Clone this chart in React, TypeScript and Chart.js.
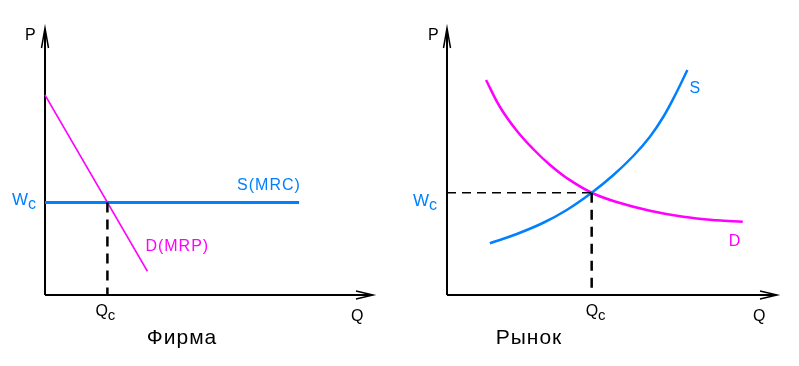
import React, { useEffect, useRef } from "react";
import { Chart, registerables } from "chart.js";

Chart.register(...registerables);

// ---------- Firm panel data (labour market of one firm) ----------
const firmDemandQ = [0, 3.2];
const firmDemandP = [8.0, 0.95];
const firmWage = 3.7;
const firmQc = 1.95;
const firmSupplyQ = [0, 7.94];
const firmAxisMax = { q: 10.25, p: 10.68 };

// ---------- Market panel data ----------
const marketSupplyQ = [1.34, 2.18, 3.01, 3.74, 4.52, 5.2, 5.82, 6.34, 6.76, 7.18, 7.51];
const marketSupplyP = [2.07, 2.44, 2.89, 3.4, 4.09, 4.8, 5.56, 6.33, 7.13, 8.13, 9.0];
const marketDemandQ = [1.22, 1.66, 2.18, 2.7, 3.22, 3.74, 4.52, 5.3, 6.34, 7.38, 8.43, 9.24];
const marketDemandP = [8.6, 7.51, 6.57, 5.83, 5.2, 4.68, 4.09, 3.72, 3.37, 3.13, 2.99, 2.93];
const marketWage = 4.09;
const marketQc = 4.52;
const marketAxisMax = { q: 10.31, p: 10.68 };

// ---------- Texts ----------
const axisLabels = { p: "P", q: "Q" };
const wageLabel = { main: "W", sub: "c" };
const qtyLabel = { main: "Q", sub: "c" };
const firmTitle = "Фирма";
const marketTitle = "Рынок";
const firmSupplyName = "S(MRC)";
const firmDemandName = "D(MRP)";
const marketSupplyName = "S";
const marketDemandName = "D";

const BLUE = "rgb(0,128,255)";
const MAGENTA = "#ff00ff";
const FONT = "'Liberation Sans', Arial, sans-serif";

const zip = (xs: number[], ys: number[]) => xs.map((x, i) => ({ x, y: ys[i] }));

type Label = {
  text: string;
  sub?: string;
  ax: number;
  ay: number;
  dx: number;
  dy: number;
  color: string;
  size: number;
  align?: CanvasTextAlign;
  spacing?: number;
};

const econPlugin = {
  id: "econ",
  beforeDatasetsDraw(chart: any) {
    const { ctx, scales } = chart;
    const x = scales.x;
    const y = scales.y;
    const x0 = x.getPixelForValue(0);
    const y0 = y.getPixelForValue(0);
    const xEnd = x.getPixelForValue(x.max);
    const yTop = y.getPixelForValue(y.max);
    ctx.save();
    ctx.strokeStyle = "#000";
    ctx.lineWidth = 2;
    ctx.beginPath();
    ctx.moveTo(x0, y0);
    ctx.lineTo(xEnd - 1, y0);
    ctx.moveTo(x0, y0);
    ctx.lineTo(x0, yTop + 1);
    ctx.stroke();
    ctx.lineWidth = 1.5;
    ctx.beginPath();
    ctx.moveTo(xEnd - 17, y0 - 4);
    ctx.lineTo(xEnd, y0);
    ctx.lineTo(xEnd - 17, y0 + 4);
    ctx.moveTo(x0 - 3.5, yTop + 20);
    ctx.lineTo(x0, yTop);
    ctx.lineTo(x0 + 3.5, yTop + 20);
    ctx.stroke();
    ctx.restore();
  },
  afterDatasetsDraw(chart: any, _args: any, opts: any) {
    const { ctx, scales } = chart;
    const labels: Label[] = opts.labels || [];
    ctx.save();
    ctx.textBaseline = "alphabetic";
    for (const l of labels) {
      const px = scales.x.getPixelForValue(l.ax) + l.dx;
      const py = scales.y.getPixelForValue(l.ay) + l.dy;
      ctx.fillStyle = l.color;
      ctx.font = `${l.size}px ${FONT}`;
      (ctx as any).letterSpacing = `${l.spacing ?? 0}px`;
      ctx.textAlign = l.align || "left";
      ctx.fillText(l.text, px, py);
      if (l.sub) {
        const w = ctx.measureText(l.text).width;
        ctx.font = `${l.size - 1}px ${FONT}`;
        ctx.textAlign = "left";
        ctx.fillText(l.sub, px + w, py + 4);
      }
    }
    ctx.restore();
  },
};

function makeChart(canvas: HTMLCanvasElement, datasets: any[], axisMax: any, padding: any, labels: Label[]) {
  return new Chart(canvas, {
    type: "line",
    data: { datasets },
    plugins: [econPlugin],
    options: {
      animation: false,
      responsive: false,
      events: [],
      layout: { padding },
      plugins: {
        legend: { display: false },
        tooltip: { enabled: false },
        econ: { labels },
      } as any,
      elements: { point: { radius: 0 } },
      scales: {
        x: { type: "linear", min: 0, max: axisMax.q, display: false },
        y: { type: "linear", min: 0, max: axisMax.p, display: false },
      },
    },
  });
}

function dashed(points: { x: number; y: number }[], width: number, dash: number[]) {
  return {
    data: points,
    borderColor: "#000",
    borderWidth: width,
    borderDash: dash,
    pointRadius: 0,
    clip: false,
    tension: 0,
  };
}

export default function App() {
  const leftRef = useRef<HTMLCanvasElement>(null);
  const rightRef = useRef<HTMLCanvasElement>(null);

  useEffect(() => {
    const left = makeChart(
      leftRef.current!,
      [
        dashed([{ x: firmQc, y: firmWage }, { x: firmQc, y: 0 }], 2.5, [10, 7]),
        {
          data: zip(firmSupplyQ, [firmWage, firmWage]),
          borderColor: BLUE,
          borderWidth: 3,
          pointRadius: 0,
          clip: false,
        },
        {
          data: zip(firmDemandQ, firmDemandP),
          borderColor: MAGENTA,
          borderWidth: 1.5,
          pointRadius: 0,
          clip: false,
        },
      ],
      firmAxisMax,
      { left: 45, right: 27, top: 28, bottom: 71 },
      [
        { text: axisLabels.p, ax: 0, ay: firmAxisMax.p, dx: -20, dy: 12, color: "#000", size: 16 },
        { text: axisLabels.q, ax: firmAxisMax.q, ay: 0, dx: -22, dy: 26, color: "#000", size: 16 },
        { text: wageLabel.main, sub: wageLabel.sub, ax: 0, ay: firmWage, dx: -33, dy: 2, color: BLUE, size: 17 },
        { text: qtyLabel.main, sub: qtyLabel.sub, ax: firmQc, ay: 0, dx: -12, dy: 21, color: "#000", size: 16 },
        { text: firmSupplyName, ax: firmSupplyQ[1], ay: firmWage, dx: -62, dy: -13, color: BLUE, size: 16, spacing: 1 },
        { text: firmDemandName, ax: firmDemandQ[1], ay: firmDemandP[1], dx: -2, dy: -20, color: MAGENTA, size: 16, spacing: 1 },
        { text: firmTitle, ax: 0, ay: 0, dx: 137, dy: 49, color: "#000", size: 21, align: "center", spacing: 1 },
      ]
    );
    const right = makeChart(
      rightRef.current!,
      [
        dashed([{ x: 0, y: marketWage }, { x: marketQc, y: marketWage }], 1.5, [9, 6]),
        dashed([{ x: marketQc, y: marketWage }, { x: marketQc, y: 0 }], 2.5, [10, 7]),
        {
          data: zip(marketSupplyQ, marketSupplyP),
          borderColor: BLUE,
          borderWidth: 2.5,
          pointRadius: 0,
          tension: 0.4,
          clip: false,
        },
        {
          data: zip(marketDemandQ, marketDemandP),
          borderColor: MAGENTA,
          borderWidth: 2.5,
          pointRadius: 0,
          tension: 0.4,
          clip: false,
        },
      ],
      marketAxisMax,
      { left: 47, right: 22, top: 28, bottom: 71 },
      [
        { text: axisLabels.p, ax: 0, ay: marketAxisMax.p, dx: -19, dy: 12, color: "#000", size: 16 },
        { text: axisLabels.q, ax: marketAxisMax.q, ay: 0, dx: -24, dy: 26, color: "#000", size: 16 },
        { text: wageLabel.main, sub: wageLabel.sub, ax: 0, ay: marketWage, dx: -34, dy: 13, color: BLUE, size: 17 },
        { text: qtyLabel.main, sub: qtyLabel.sub, ax: marketQc, ay: 0, dx: -6, dy: 21, color: "#000", size: 16 },
        { text: marketSupplyName, ax: marketSupplyQ[marketSupplyQ.length - 1], ay: marketSupplyP[marketSupplyP.length - 1], dx: 2, dy: 23, color: BLUE, size: 16 },
        { text: marketDemandName, ax: marketDemandQ[marketDemandQ.length - 1], ay: marketDemandP[marketDemandP.length - 1], dx: -14, dy: 24, color: MAGENTA, size: 16 },
        { text: marketTitle, ax: 0, ay: 0, dx: 82, dy: 49, color: "#000", size: 21, align: "center", spacing: 1 },
      ]
    );
    return () => {
      left.destroy();
      right.destroy();
    };
  }, []);

  return (
    <div style={{ position: "fixed", left: 0, top: 0, width: 799, height: 366, background: "#fff", display: "flex" }}>
      <canvas ref={leftRef} width={400} height={366} style={{ width: 400, height: 366, display: "block" }} />
      <canvas ref={rightRef} width={399} height={366} style={{ width: 399, height: 366, display: "block" }} />
    </div>
  );
}
